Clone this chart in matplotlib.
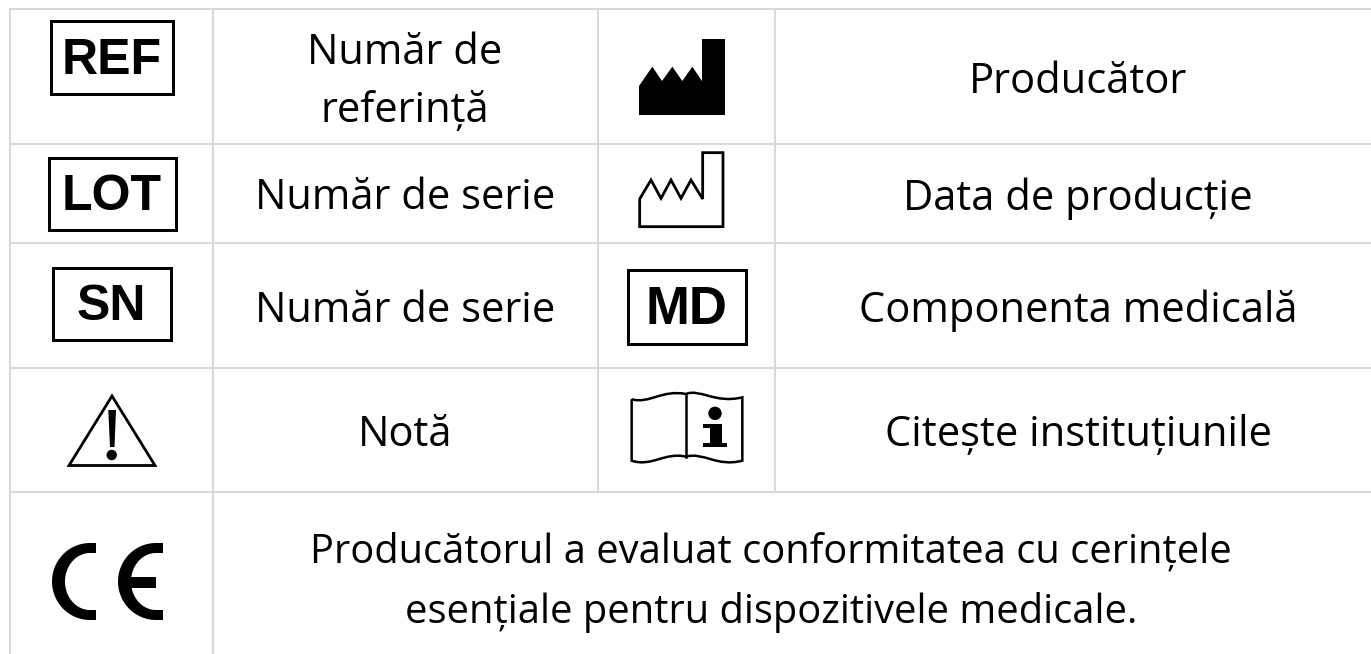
import matplotlib
matplotlib.use('Agg')
import matplotlib.pyplot as plt
import numpy as np
from matplotlib.patches import Polygon, Rectangle, Circle, PathPatch
from matplotlib.path import Path

# table contents
left_labels = ['Număr de\nreferință', 'Număr de serie', 'Număr de serie', 'Notă']
right_labels = ['Producător', 'Data de producție', 'Componenta medicală', 'Citește instituțiunile']
box_codes = ['REF', 'LOT', 'SN', 'MD']
ce_label = 'Producătorul a evaluat conformitatea cu cerințele\nesențiale pentru dispozitivele medicale.'

LINE = '#d9d9d9'
FONT = 'Open Sans'
FS = 30

fig = plt.figure(figsize=(13.71, 6.54), dpi=100)
ax = fig.add_axes([0, 0, 1, 1])
ax.set_xlim(0, 1371)
ax.set_ylim(654, 0)
ax.axis('off')

# grid
col_edges = [10, 213, 598, 775]
row_edges = [9, 144, 243, 368, 492]
lw = 1.5
for y in row_edges:
    ax.plot([9, 1371], [y, y], color=LINE, lw=lw, solid_capstyle='butt')
for x in col_edges[:2]:
    ax.plot([x, x], [9, 654], color=LINE, lw=lw, solid_capstyle='butt')
for x in col_edges[2:]:
    ax.plot([x, x], [9, 492], color=LINE, lw=lw, solid_capstyle='butt')

# text cells
left_y = [82, 198, 311, 435]
right_y = [82, 199, 311, 435]
for s, y in zip(left_labels, left_y):
    ax.text(405, y, s, ha='center', va='center', fontsize=FS, family=FONT, linespacing=1.52, color='black')
for s, y in zip(right_labels, right_y):
    ax.text(1078, y, s, ha='center', va='center', fontsize=FS, family=FONT, color='black')
ax.text(771, 582.5, ce_label, ha='center', va='center', fontsize=28.7, family=FONT, linespacing=1.6, color='black')


def box_icon(x0, y0, x1, y1, code, size, lwpx=3.0):
    ax.add_patch(Rectangle((x0 + lwpx / 2, y0 + lwpx / 2), x1 - x0 - lwpx, y1 - y0 - lwpx,
                           fc='white', ec='black', lw=lwpx * 0.72))
    ax.text((x0 + x1) / 2, (y0 + y1) / 2 - 1.5, code, ha='center', va='center_baseline',
            fontsize=size, family='Liberation Sans', fontweight='bold', color='black')


box_icon(49, 19, 174, 95, box_codes[0], 36)
box_icon(47, 156, 177, 231, box_codes[1], 36)
box_icon(51, 266, 172, 341, box_codes[2], 36)
box_icon(626, 268, 747, 345, box_codes[3], 38)


def z(pts, oy=0):
    # zoomed crop coordinates to image pixels
    return [(590 + a / 3, oy + b / 3) for a, b in pts]


# factories
ax.add_patch(Polygon(z([(147, 258), (187, 200), (216, 243), (247, 200), (277, 243), (307, 200), (336, 243),
                        (336, 117), (405, 117), (405, 345), (147, 345)]), fc='black', ec='none'))
ax.add_patch(Polygon(z([(149, 597), (183, 540), (213, 595), (243, 540), (273, 595), (303, 540), (338, 597),
                        (338, 458), (399, 458), (399, 680), (149, 680)]), fc='white', ec='black', lw=2.0,
                     joinstyle='miter'))

# warning triangle
ax.add_patch(Polygon([(112, 396), (155, 465.5), (69, 465.5)], fc='white', ec='black', lw=2.0, joinstyle='miter'))
ax.add_patch(Polygon([(108.3, 410), (116, 410), (114.5, 447), (110, 447)], fc='black', ec='none'))
ax.add_patch(Circle((111.7, 455), 5.2, fc='black', ec='none'))

# book
top_l = z([(125, 478), (180, 492), (215, 448), (288, 462)], 240)
top_r = z([(288, 462), (330, 445), (375, 492), (457, 472)], 240)
bot_r = z([(457, 662), (380, 682), (340, 635), (288, 650)], 240)
bot_l = z([(288, 650), (225, 635), (185, 682), (125, 662)], 240)
verts = top_l + top_r[1:] + [z([(457, 662)], 240)[0]] + bot_r[1:] + bot_l[1:] + [top_l[0]]
codes = [Path.MOVETO] + [Path.CURVE4] * 6 + [Path.LINETO] + [Path.CURVE4] * 6 + [Path.LINETO]
ax.add_patch(PathPatch(Path(verts, codes), fc='white', ec='black', lw=1.8))
ax.plot(*zip(*z([(288, 462), (288, 650)], 240)), color='black', lw=1.8)
ax.add_patch(Circle(z([(375, 520)], 240)[0], 6.7, fc='black', ec='none'))
ax.add_patch(Polygon(z([(340, 552), (395, 552), (395, 610), (412, 610), (412, 622), (340, 622), (340, 610),
                        (360, 610), (360, 565), (340, 565)], 240), fc='black', ec='none'))


# CE mark
def crescent(cx, cy, rx, ry, rx_in, ry_in, xend):
    a = np.linspace(np.pi / 2, 3 * np.pi / 2, 60)
    outer = np.c_[cx + rx * np.cos(a), cy - ry * np.sin(a)]
    inner = np.c_[cx + rx_in * np.cos(a[::-1]), cy - ry_in * np.sin(a[::-1])]
    pts = np.vstack([[[xend, cy - ry]], outer, [[xend, cy + ry]], [[xend, cy + ry_in]], inner, [[xend, cy - ry_in]]])
    ax.add_patch(Polygon(pts, fc='black', ec='none'))


crescent(90, 581.5, 38, 38.5, 25, 28.5, 96)
crescent(156, 581.5, 38, 38.5, 25, 28.5, 163)
ax.add_patch(Rectangle((122, 577), 34, 11, fc='black', ec='none'))

plt.savefig('out.png', dpi=100)
